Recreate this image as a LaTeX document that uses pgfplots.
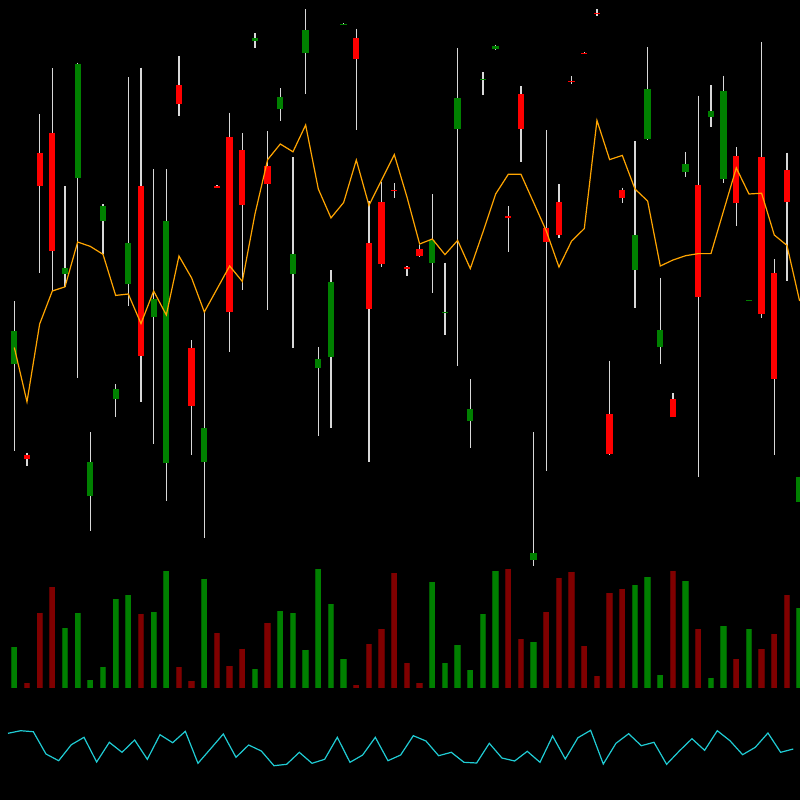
\documentclass[border=0pt]{standalone}
\usepackage{pgfplots}
\usepackage{pgfplotstable}
\pgfplotsset{compat=1.18}
\definecolor{cgreen}{HTML}{008000}
\definecolor{cred}{HTML}{FF0000}
\definecolor{vgreen}{HTML}{008000}
\definecolor{vgreenedge}{HTML}{005C00}
\definecolor{vred}{HTML}{800000}
\definecolor{vrededge}{HTML}{5C0000}
\definecolor{maorange}{HTML}{FFA500}
\definecolor{cyanl}{HTML}{20CCD4}
\definecolor{wickc}{HTML}{D8D8D8}

\pgfplotstableread{
i wt wb
0 301 451
1 452.5 466
2 114 272.5
3 68 291
4 186 287
5 62.5 377.5
6 432 531
7 204 253.6
8 384 417
9 77 306
10 67.5 402
11 169 444
12 169 501
13 56.4 116
14 340 455
15 312 537.5
16 185 188
17 112.5 351.8
18 132.9 290.4
19 33 47.5
20 131.4 310
21 88 120.7
22 157 347.5
23 9 93.6
24 346.8 436
25 270 428
26 23 25
27 28.6 130.4
28 201 461.8
29 182 267
30 183 197.5
31 266.4 275.7
32 244.6 257
33 194 293
34 262.5 334.6
35 47.9 366
36 379 447.5
37 72 94.6
38 44.6 50
39 206.4 251.8
40 86 161.8
41 432 566
42 130.4 471.4
43 184 237.5
44 76 84.3
45 52.4 53.6
46 9.3 15.7
47 360.7 455
48 187.5 202.5
49 141 307.9
50 47 140
51 277.5 364
52 393 417
53 151.8 176.8
54 95.7 476.8
55 85 127
56 75.7 183.2
57 147 225.7
58 300.2 301.4
59 41.8 317.9
60 259 455
61 152.5 280.7
62 476.8 501.8
}\wicks

\pgfplotstableread{
i bt bb
0 331.4 364.3
4 268 273.6
5 63.6 177.5
6 462 496.4
7 206 220.7
8 389 399
9 243 284
11 299 317
12 221.4 463
15 428 462
19 37.9 40.7
21 97 109
22 254.3 273.6
23 30 52.5
24 359 367.5
25 282 357
26 23.6 24.6
33 240 262.5
34 312 313
35 97.9 128.6
36 409 421.4
37 78.8 79.8
38 45.7 49.3
41 553 560
49 235 269.6
50 89 138.6
51 330 347
53 164.3 172
55 111.4 116.8
56 90.7 178.6
58 300.4 301.2
62 476.8 501.8
}\greenbodies

\pgfplotstableread{
i bt bb
1 454.6 458.6
2 152.5 185.7
3 132.5 251
10 185.7 356.4
13 85 104
14 347.5 406.4
16 185.7 187.5
17 136.8 311.8
18 150.4 204.6
20 166.4 184
27 37.9 59.3
28 242.9 309
29 202 264.3
30 190.4 191.4
31 267 269
32 249 256
39 216.4 217.9
40 94 128.6
42 227.5 241.8
43 201.8 234.6
44 80.5 81.5
45 52.6 53.4
46 12.5 14
47 414 453.6
48 190.4 197.5
52 399 416.8
54 184.6 296.8
57 156 203
59 157 313.6
60 273 378.6
61 169.6 201.8
}\redbodies

\pgfplotstableread{
i ma
0 347.5
1 401.8
2 324
3 291
4 286.8
5 242
6 246.4
7 254.3
8 295.4
9 294
10 323.6
11 291
12 315
13 256
14 278
15 312
16 289
17 266
18 281.4
19 214
20 159.6
21 144
22 151.8
23 125
24 189
25 217.9
26 202.5
27 160
28 205.4
29 180
30 154.6
31 197
32 244
33 239
34 254.6
35 240.4
36 268.6
37 232
38 194
39 174.3
40 174.3
41 202.5
42 231
43 267
44 241
45 228.6
46 120.4
47 159.6
48 155.4
49 189
50 201
51 266
52 260
53 255.7
54 253.6
55 253.6
56 210.7
57 167.9
58 194
59 193.2
60 235
61 245.4
62 301
}\ma

\pgfplotstableread{
i v
0 647
4 628
5 612.7
6 680.3
7 666.7
8 599
9 595.3
11 612
12 571
15 578.7
19 669.3
21 611
22 613
23 649.7
24 569.3
25 604
26 659
33 582.3
34 663.3
35 645
36 670
37 614.3
38 570.7
41 642
49 585.3
50 577
51 675.3
53 581
55 677.7
56 626.3
58 629
62 608
}\greenvol

\pgfplotstableread{
i v
1 683
2 612.7
3 587.3
10 613.7
13 667
14 680.7
16 633
17 666
18 648.7
20 622.7
27 685.3
28 644
29 629.3
30 573.3
31 663.3
32 683.3
39 568.7
40 639
42 612
43 577.7
44 571.7
45 646
46 676.3
47 593
48 588.7
52 570.7
54 629
57 659.3
59 649.3
60 634.3
61 595
}\redvol

\pgfplotstableread{
i c
0 733.3
1 730.7
2 731.7
3 754
4 760.7
5 744.7
6 737.3
7 762
8 742.3
9 752.3
10 740
11 759.3
12 734.7
13 742.7
14 731.3
15 763.3
16 748.7
17 734
18 757.3
19 745
20 751
21 765.7
22 764.3
23 752.3
24 763.3
25 759.3
26 737.3
27 762.3
28 755
29 737.3
30 760.7
31 755
32 735.7
33 741
34 755.7
35 752.3
36 762.3
37 763
38 743.3
39 758
40 761
41 751.3
42 762.3
43 736
44 759
45 737.7
46 730.3
47 764
48 743.3
49 733.7
50 745.7
51 742.3
52 764.3
53 751
54 738.7
55 750.3
56 730.7
57 740.7
58 754.7
59 747.3
60 733
61 752.3
62 749
}\osc

\begin{document}
\begin{tikzpicture}
\begin{axis}[
  scale only axis, width=400pt, height=400pt,
  xmin=-1.131, xmax=62.03, ymin=0, ymax=800, y dir=reverse,
  axis background/.style={fill=black},
  axis line style={draw=none}, ticks=none,
  clip=true,
  bar/.style={draw=none, mark=none, forget plot, error bars/.cd, y dir=plus, y explicit, error mark=none},
]
% wicks
\addplot[bar, error bar style={draw=wickc, line width=0.6pt}]
  table[x=i, y=wt, y error plus expr=\thisrow{wb}-\thisrow{wt}] {\wicks};
% bodies
\addplot[bar, error bar style={draw=cgreen, line width=3.15pt}]
  table[x=i, y=bt, y error plus expr=\thisrow{bb}-\thisrow{bt}] {\greenbodies};
\addplot[bar, error bar style={draw=cred, line width=3.15pt}]
  table[x=i, y=bt, y error plus expr=\thisrow{bb}-\thisrow{bt}] {\redbodies};
% moving average
\addplot[maorange, line width=0.6pt, mark=none] table[x=i, y=ma] {\ma};
% volume
\addplot[bar, error bar style={draw=vgreenedge, line width=3.15pt}]
  table[x=i, y=v, y error plus expr=687.7-\thisrow{v}] {\greenvol};
\addplot[bar, error bar style={draw=vgreen, line width=2.3pt}]
  table[x=i, y=v, y error plus expr=687.7-\thisrow{v}] {\greenvol};
\addplot[bar, error bar style={draw=vrededge, line width=3.15pt}]
  table[x=i, y=v, y error plus expr=687.7-\thisrow{v}] {\redvol};
\addplot[bar, error bar style={draw=vred, line width=2.3pt}]
  table[x=i, y=v, y error plus expr=687.7-\thisrow{v}] {\redvol};
% oscillator
\addplot[cyanl, line width=0.6pt, mark=none] table[x expr=\thisrow{i}-0.5, y=c] {\osc};
\end{axis}
\end{tikzpicture}
\end{document}
